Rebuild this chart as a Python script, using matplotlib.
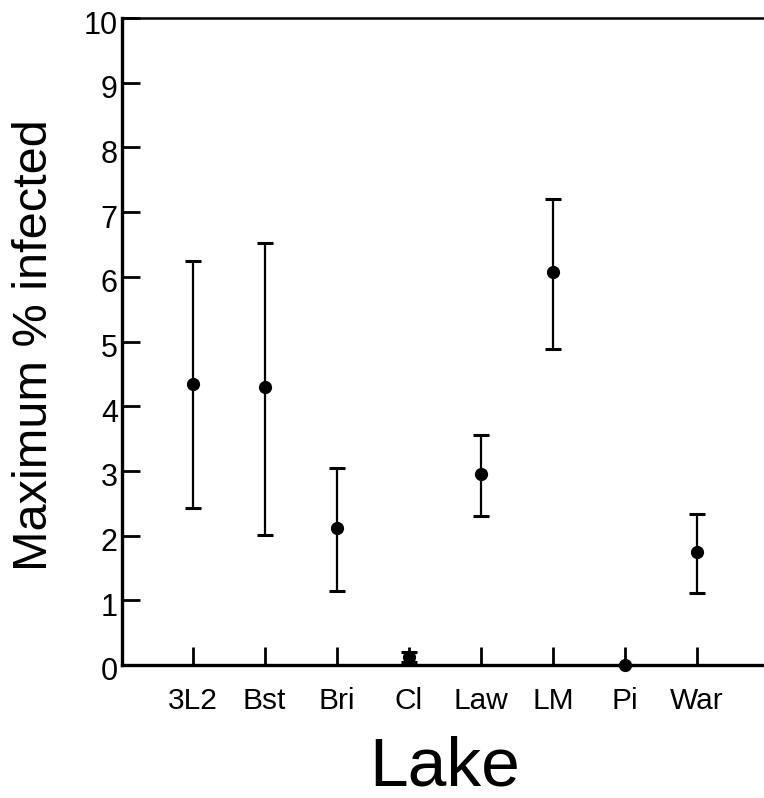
import matplotlib
matplotlib.use("Agg")
import matplotlib.pyplot as plt
import matplotlib.transforms as mtransforms
import numpy as np

plt.rcParams['font.family'] = ['Liberation Sans', 'DejaVu Sans']

lakes = ["3L2", "Bst", "Bri", "Cl", "Law", "LM", "Pi", "War"]
means = [4.35, 4.29, 2.12, 0.13, 2.95, 6.07, 0.0, 1.75]
upper = [6.24, 6.52, 3.05, 0.20, 3.55, 7.20, 0.0, 2.33]
lower = [2.42, 2.01, 1.15, 0.04, 2.30, 4.89, 0.0, 1.12]
yticks = list(range(0, 11))

fig = plt.figure(figsize=(7.64, 7.98), dpi=100)
ax = fig.add_axes([122/764, 133/798, 1 - 122/764, (665-18)/798])

x = np.arange(1, len(lakes) + 1)
m = np.array(means)
yerr = np.vstack([m - np.array(lower), np.array(upper) - m])
ax.errorbar(x, m, yerr=yerr, fmt='o', color='black', ms=8.5,
            elinewidth=1.6, capsize=6, capthick=2.2, clip_on=False, zorder=5)

ax.set_xlim(0.02, 8.93)
ax.set_ylim(0, 10)
ax.set_xticks(x)
ax.set_xticklabels(lakes, fontsize=21.5)
ax.set_yticks(yticks)
ax.set_yticklabels([str(v) for v in yticks], fontsize=22)

ax.tick_params(axis='x', direction='in', length=13, width=2, pad=16)
ax.tick_params(axis='y', direction='in', length=13, width=2, pad=3)

off = mtransforms.ScaledTranslation(0, -4/100, fig.dpi_scale_trans)
for lab in ax.get_yticklabels():
    lab.set_transform(lab.get_transform() + off)

ax.spines['right'].set_visible(False)
ax.spines['left'].set_linewidth(2.4)
ax.spines['bottom'].set_linewidth(2.4)
ax.spines['top'].set_linewidth(1.8)

fig.text(35/764, 1 - 345/798, "Maximum % infected", rotation=90,
         fontsize=35, ha='center', va='center')
fig.text(445/764, 1 - 767/798, "Lake", fontsize=50, ha='center', va='center')

fig.savefig("out.png", dpi=100)
